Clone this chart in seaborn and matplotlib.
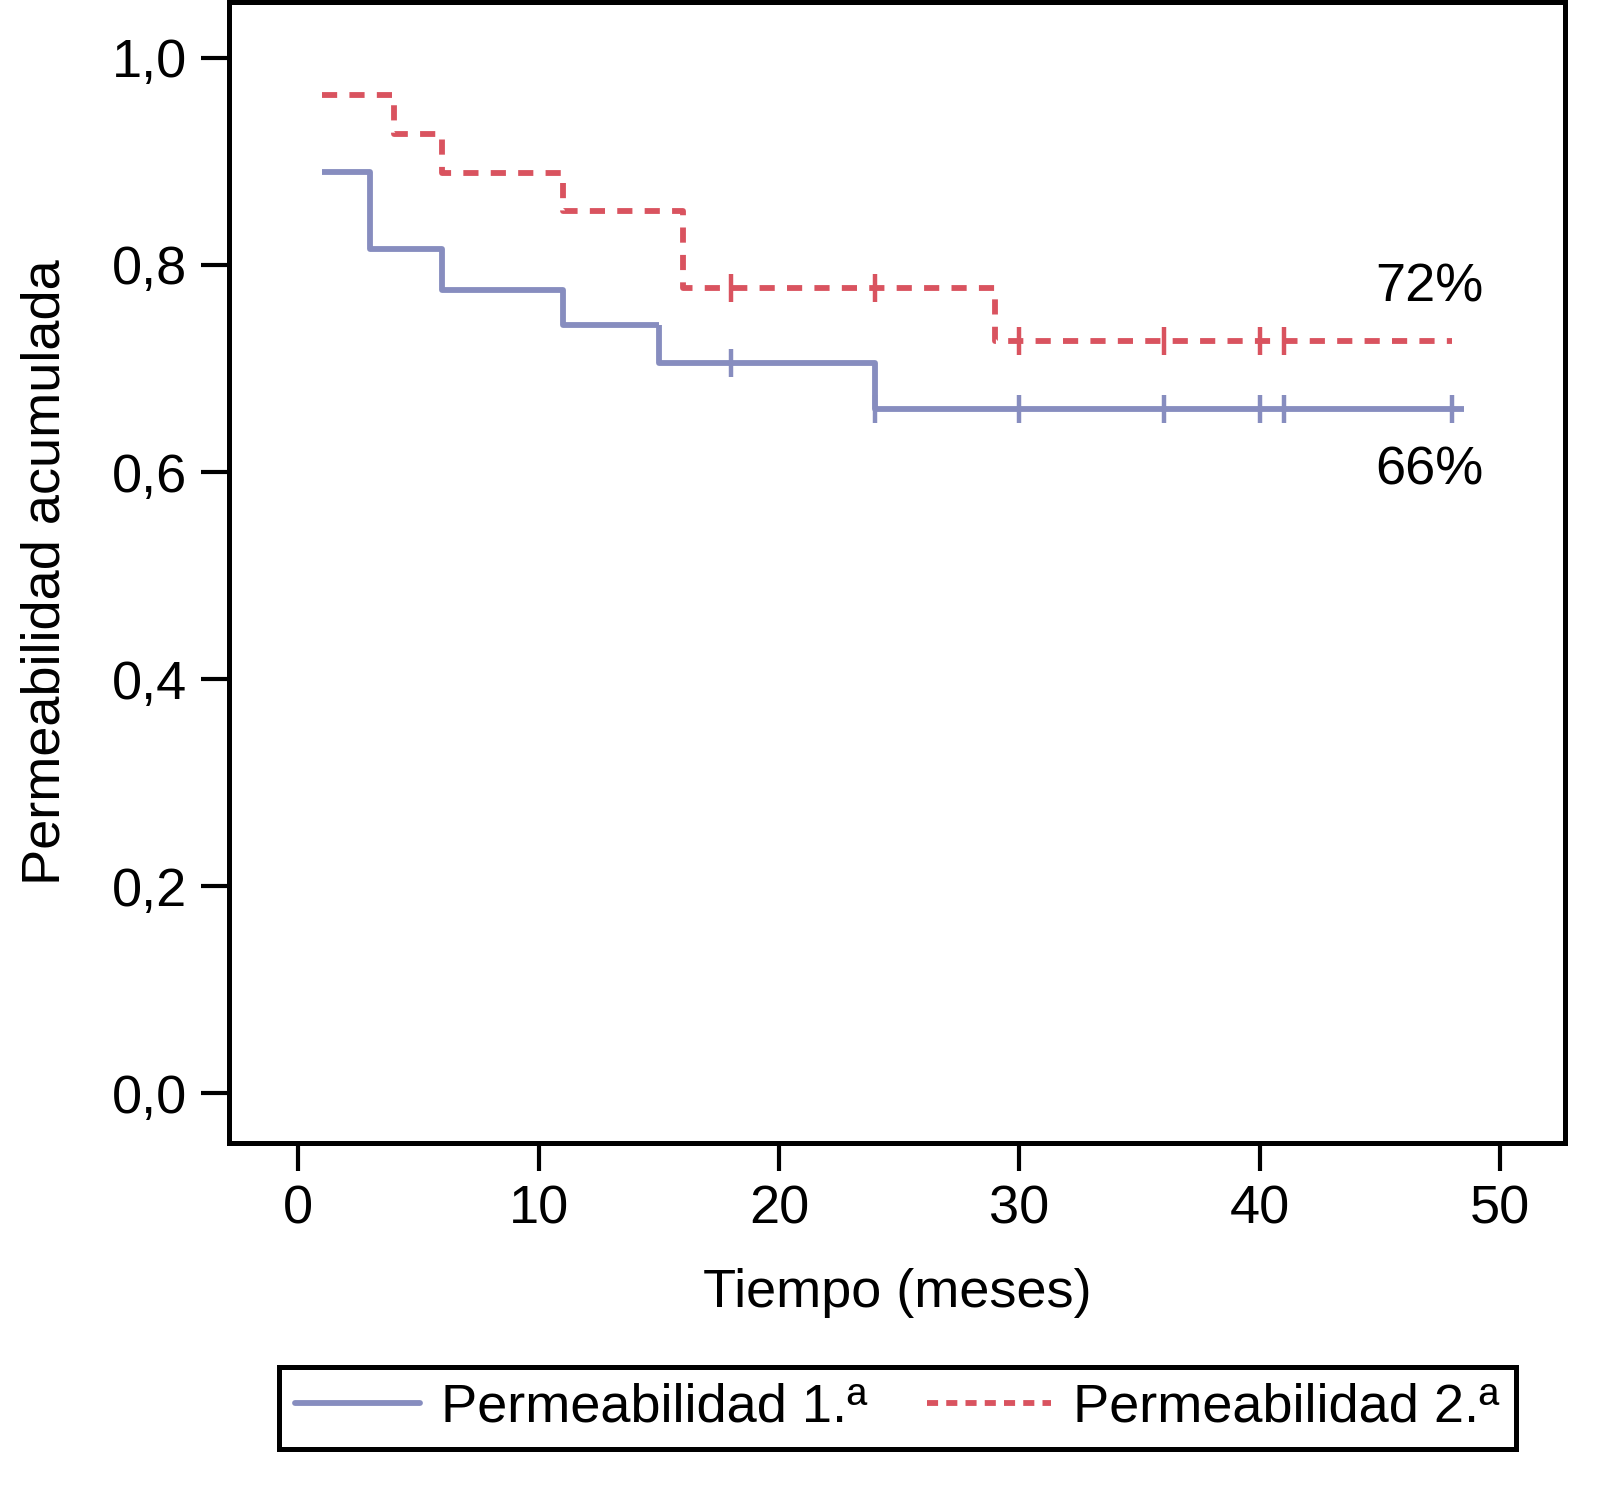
import numpy as np
import pandas as pd
import matplotlib
matplotlib.use("Agg")
import matplotlib.pyplot as plt
from matplotlib.lines import Line2D
import seaborn as sns

# curvas de Kaplan-Meier
t_p1 = [1, 3, 6, 11, 15, 24, 48.5]
s_p1 = [0.890, 0.815, 0.776, 0.742, 0.705, 0.661, 0.661]
t_p2 = [1, 4, 6, 11, 16, 29, 48]
s_p2 = [0.964, 0.926, 0.889, 0.852, 0.778, 0.727, 0.727]

# casos censurados
cens_t_p1 = [18, 24, 30, 36, 40, 41, 48]
cens_s_p1 = [0.705, 0.661, 0.661, 0.661, 0.661, 0.661, 0.661]
cens_t_p2 = [18, 24, 30, 36, 40, 41]
cens_s_p2 = [0.778, 0.778, 0.727, 0.727, 0.727, 0.727]

labels = ["Permeabilidad 1.ª", "Permeabilidad 2.ª"]
end_labels = ["66%", "72%"]

BLUE = "#878dbf"
RED = "#d9535f"
FS = 39

sns.set_style("white")
plt.rcParams["font.family"] = ["Liberation Sans", "DejaVu Sans"]
plt.rcParams["text.color"] = "black"
plt.rcParams["axes.labelcolor"] = "black"
plt.rcParams["xtick.color"] = "black"
plt.rcParams["ytick.color"] = "black"

df = pd.concat([
    pd.DataFrame({"t": t_p1, "s": s_p1, "grupo": labels[0]}),
    pd.DataFrame({"t": t_p2, "s": s_p2, "grupo": labels[1]}),
])

fig = plt.figure(figsize=(16.02, 14.89), dpi=100)
ax = fig.add_axes([0.143, 0.2324, 0.834, 0.7663])

sns.lineplot(data=df, x="t", y="s", hue="grupo", style="grupo",
             palette=[BLUE, RED], dashes=[(1, 0), (2.6, 2.1)],
             drawstyle="steps-post", estimator=None, linewidth=4.2,
             legend=False, ax=ax)

ax.plot(cens_t_p1, cens_s_p1, linestyle="none", marker="|", markersize=20,
        markeredgewidth=3.2, color=BLUE)
ax.plot(cens_t_p2, cens_s_p2, linestyle="none", marker="|", markersize=20,
        markeredgewidth=3.2, color=RED)

ax.text(49.3, 0.778, end_labels[1], fontsize=FS, ha="right", va="center")
ax.text(49.3, 0.601, end_labels[0], fontsize=FS, ha="right", va="center")

ax.set_xlim(-2.87, 52.7)
ax.set_ylim(-0.048, 1.054)
ax.set_xticks([0, 10, 20, 30, 40, 50])
ax.set_yticks([0.0, 0.2, 0.4, 0.6, 0.8, 1.0])
ax.set_yticklabels(["0,0", "0,2", "0,4", "0,6", "0,8", "1,0"])
ax.tick_params(axis="both", direction="out", length=20, width=3,
               labelsize=FS, pad=10, left=True, bottom=True)
ax.set_xlabel("Tiempo (meses)", fontsize=FS, labelpad=24)
ax.set_ylabel("Permeabilidad acumulada", fontsize=FS, labelpad=30)

for sp in ax.spines.values():
    sp.set_visible(True)
    sp.set_color("black")
    sp.set_linewidth(3.6)

handles = [
    Line2D([0], [0], color=BLUE, lw=4.2),
    Line2D([0], [0], color=RED, lw=4.2, dashes=(1.9, 1.4)),
]
leg = fig.legend(handles, labels, loc="center", bbox_to_anchor=(0.56, 0.0544),
                 ncol=2, fontsize=FS, frameon=True, fancybox=False,
                 framealpha=1, edgecolor="black", handlelength=2.3,
                 handletextpad=0.4, columnspacing=1.1, borderpad=0.3)
leg.get_frame().set_linewidth(3.6)

fig.savefig("out.png", dpi=100)
